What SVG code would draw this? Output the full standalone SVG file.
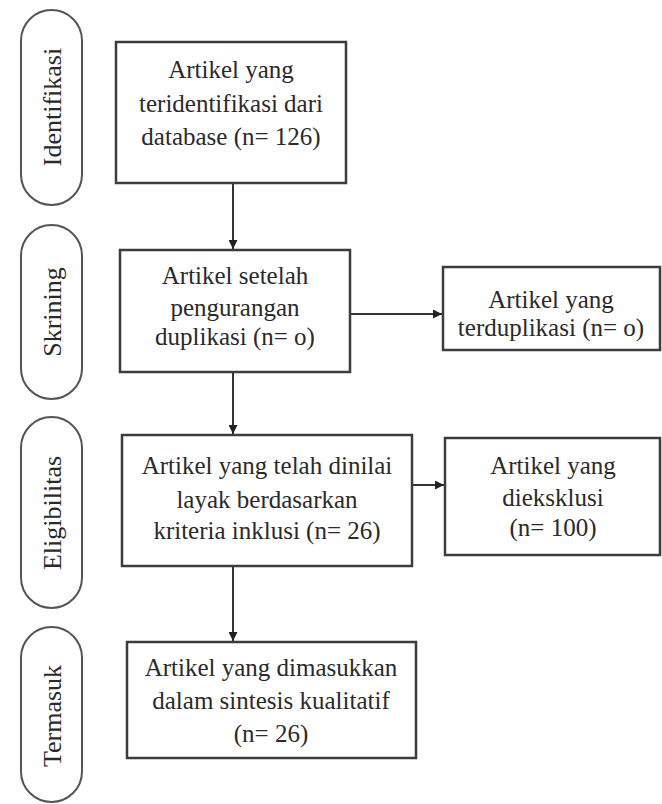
<svg xmlns="http://www.w3.org/2000/svg" width="662" height="804" viewBox="0 0 662 804">
<defs>
<style>
.box{fill:#fff;stroke:#3c3c3c;stroke-width:2.5}
.pill{fill:#fff;stroke:#555;stroke-width:2}
.t{font-family:"Liberation Serif","Times New Roman",serif;font-size:25px;fill:#2a2a2a;text-anchor:middle}
.pt{font-family:"Liberation Serif","Times New Roman",serif;font-size:26px;fill:#2a2a2a;text-anchor:middle}
.ln{stroke:#333;stroke-width:2;fill:none;marker-end:url(#ah)}
</style>
<marker id="ah" viewBox="0 0 10 10" refX="10" refY="5" markerWidth="4.5" markerHeight="4.5" markerUnits="strokeWidth" orient="auto">
<path d="M0,0 L10,5 L0,10 Z" fill="#222"/>
</marker>
</defs>
<rect width="662" height="804" fill="#fff"/>

<g id="stage-identifikasi">
<rect class="pill" x="21" y="10" width="61" height="195" rx="30.5"/>
<text class="pt" transform="translate(52,107) rotate(-90)" dy="9">Identifikasi</text>
</g>
<g id="stage-skrining">
<rect class="pill" x="21" y="225" width="61" height="174" rx="30.5"/>
<text class="pt" transform="translate(52,312) rotate(-90)" dy="9">Skrining</text>
</g>
<g id="stage-eligibilitas">
<rect class="pill" x="21" y="417" width="61" height="191" rx="30.5"/>
<text class="pt" transform="translate(52,513) rotate(-90)" dy="9">Eligibilitas</text>
</g>
<g id="stage-termasuk">
<rect class="pill" x="21" y="627" width="61" height="175" rx="30.5"/>
<text class="pt" transform="translate(52,716) rotate(-90)" dy="9">Termasuk</text>
</g>

<g id="connectors">
<line class="ln" x1="233" y1="183" x2="233" y2="249"/>
<line class="ln" x1="233" y1="372" x2="233" y2="434"/>
<line class="ln" x1="233" y1="566" x2="233" y2="641"/>
<line class="ln" x1="350" y1="314" x2="442" y2="314"/>
<line class="ln" x1="412" y1="485" x2="444" y2="485"/>
</g>

<g id="box-identified">
<rect class="box" x="116" y="42" width="230" height="141"/>
<text class="t" x="231" y="78">Artikel yang</text>
<text class="t" x="231" y="112">teridentifikasi dari</text>
<text class="t" x="231" y="145">database (n= 126)</text>
</g>
<g id="box-screened">
<rect class="box" x="120" y="250" width="230" height="122"/>
<text class="t" x="235" y="284">Artikel setelah</text>
<text class="t" x="235" y="316">pengurangan</text>
<text class="t" x="235" y="345">duplikasi (n= o)</text>
</g>
<g id="box-duplicates">
<rect class="box" x="443" y="267" width="217" height="83"/>
<text class="t" x="551" y="308">Artikel yang</text>
<text class="t" x="551" y="336">terduplikasi (n= o)</text>
</g>
<g id="box-eligible">
<rect class="box" x="122" y="435" width="290" height="131"/>
<text class="t" x="267" y="474">Artikel yang telah dinilai</text>
<text class="t" x="267" y="508">layak berdasarkan</text>
<text class="t" x="267" y="539">kriteria inklusi (n= 26)</text>
</g>
<g id="box-excluded">
<rect class="box" x="445" y="438" width="215" height="117"/>
<text class="t" x="553" y="474">Artikel yang</text>
<text class="t" x="553" y="506">dieksklusi</text>
<text class="t" x="553" y="536">(n= 100)</text>
</g>
<g id="box-included">
<rect class="box" x="127" y="642" width="289" height="116"/>
<text class="t" x="271" y="676">Artikel yang dimasukkan</text>
<text class="t" x="271" y="709">dalam sintesis kualitatif</text>
<text class="t" x="271" y="742">(n= 26)</text>
</g>
</svg>
